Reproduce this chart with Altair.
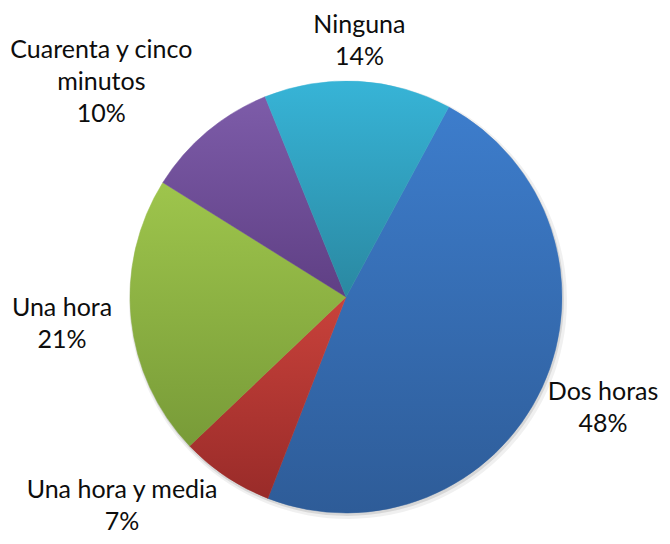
import math
import altair as alt
import pandas as pd

# ---- data ----
categories = ["Dos horas", "Una hora y media", "Una hora", "Cuarenta y cinco minutos", "Ninguna"]
label_text = ["Dos horas", "Una hora y media", "Una hora", "Cuarenta y cinco\nminutos", "Ninguna"]
percent = [48, 7, 21, 10, 14]

# ---- styles ----
top_colors = ["#3D7DCC", "#C9423B", "#9EC54C", "#7D5CA9", "#37B4D7"]
bottom_colors = ["#2E5C98", "#992B29", "#789B38", "#5F3F84", "#2A88A1"]

df = pd.DataFrame({
    "cat": categories,
    "label": label_text,
    "pct": percent,
    "idx": list(range(len(categories))),
})

W, H = 630, 478
PAD_L, PAD_T, PAD_R = 23, 50, 1
R = 216
OFFSET = math.radians(28.4)
GAP = 24
LINE = 32
FONT = 25
CHAR = 11.3
TWO_PI = 2 * math.pi

base = (
    alt.Chart(df)
    .transform_joinaggregate(total="sum(pct)")
    .transform_window(cum="sum(pct)", sort=[alt.SortField("idx")], frame=[None, 0])
    .transform_calculate(
        t0="(datum.cum - datum.pct) / datum.total * 100",
        t1="datum.cum / datum.total * 100",
    )
)

theta_scale = alt.Scale(domain=[0, 100], range=[OFFSET, OFFSET + TWO_PI])
theta_enc = dict(theta=alt.Theta("t0:Q", scale=theta_scale), theta2="t1:Q")

layers = []
# soft shadow
layers.append(base.mark_arc(radius=R + 3, xOffset=2, yOffset=3, fill="#000000", opacity=0.06).encode(**theta_enc))
layers.append(base.mark_arc(radius=R + 1, xOffset=1, yOffset=2, fill="#000000", opacity=0.10).encode(**theta_enc))

for c, tc, bc in zip(categories, top_colors, bottom_colors):
    grad = alt.Gradient(
        gradient="linear", x1=0, y1=0, x2=0, y2=1,
        stops=[alt.GradientStop(offset=0, color=tc), alt.GradientStop(offset=1, color=bc)],
    )
    layers.append(
        base.transform_filter(alt.datum.cat == c)
        .mark_arc(radius=R, fill=grad, stroke=grad, strokeWidth=0.5)
        .encode(**theta_enc)
    )

labels = base.transform_calculate(
    a=f"{OFFSET} + (datum.t0 + datum.t1) / 200 * {TWO_PI}",
    txt="datum.label + '\\n' + datum.pct + '%'",
).transform_calculate(
    s="sin(datum.a)",
    c="cos(datum.a)",
    n="length(split(datum.txt, '\\n'))",
).transform_calculate(
    maxlen=("max(length(split(datum.txt, '\\n')[0]), length(split(datum.txt, '\\n')[1]), "
            "datum.n > 2 ? length(split(datum.txt, '\\n')[2]) : 0)"),
    sgn="datum.s > 0.3 ? 1 : (datum.s < -0.3 ? -1 : 0)",
).transform_calculate(
    hw=f"datum.maxlen * {CHAR / 2}",
    hh=f"(datum.n - 1) * {LINE / 2}",
).transform_calculate(
    bx=f"{W / 2} + {R + GAP} * datum.s + datum.sgn * datum.hw",
    by=f"{H / 2} - {R + GAP} * datum.c - datum.c * (datum.hh + 9)",
).transform_calculate(
    # keep each label block inside the drawing
    lx=f"clamp(datum.bx, datum.hw + 2 - {PAD_L}, {W + PAD_R - 3} - datum.hw * 1.1)",
    ly=f"clamp(datum.by - datum.hh, {17 - PAD_T}, {H - 14} - 2 * datum.hh)",
)

layers.append(
    labels.mark_text(align="center", baseline="middle", lineBreak="\n", font="Lato",
                     fontSize=FONT, lineHeight=LINE, color="#0D0D0D")
    .encode(x=alt.X("lx:Q", scale=None), y=alt.Y("ly:Q", scale=None), text="txt:N")
)

chart = (
    alt.layer(*layers)
    .properties(width=W, height=H,
                padding={"left": PAD_L, "top": PAD_T, "right": PAD_R, "bottom": 0},
                autosize="none")
    .configure_view(stroke=None)
)

chart.save("out.html", embed_options={"renderer": "svg", "actions": False})
